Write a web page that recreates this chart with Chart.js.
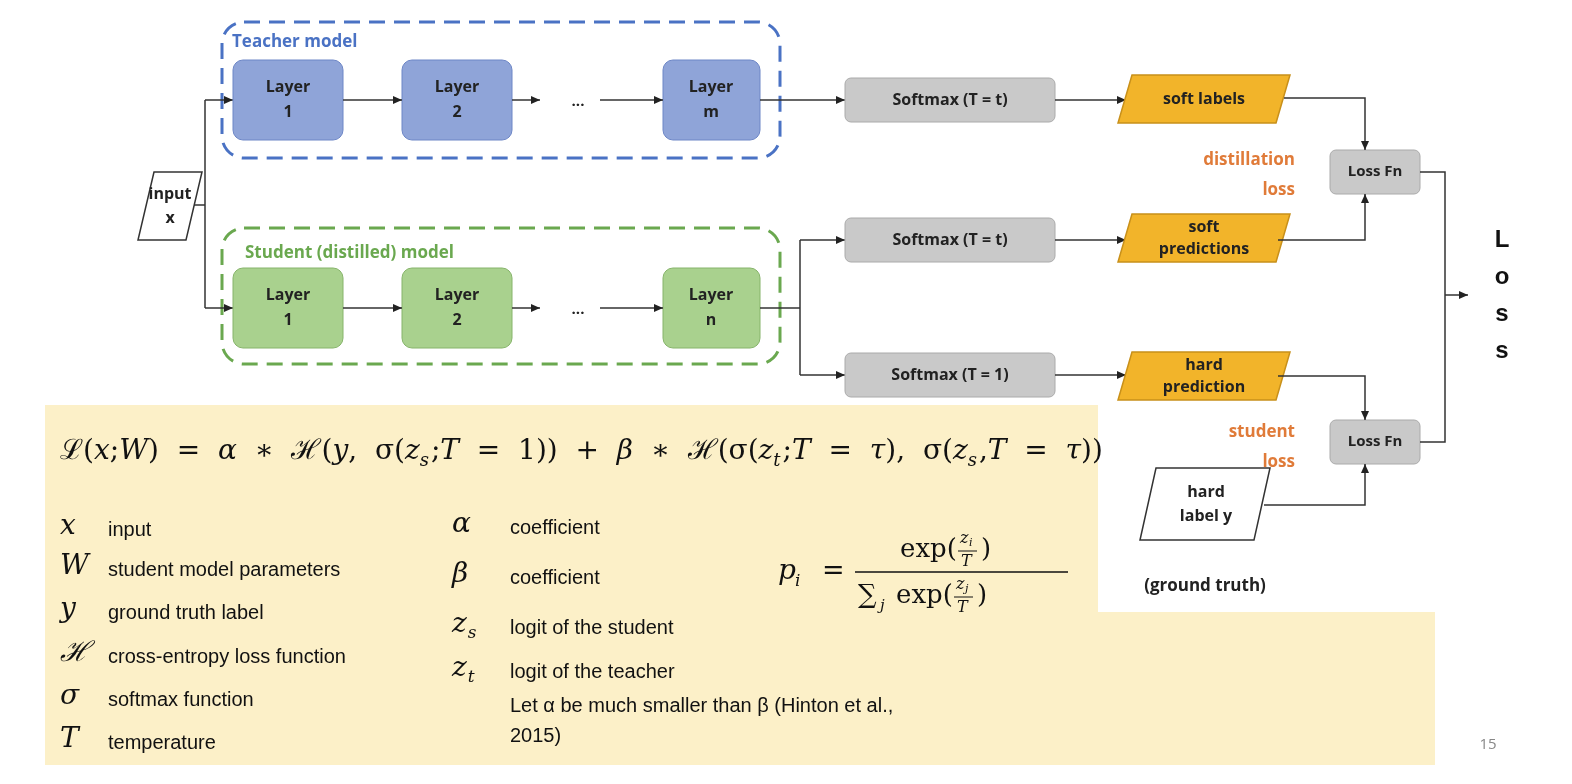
<!DOCTYPE html>
<html><head><meta charset="utf-8">
<script src="https://cdn.jsdelivr.net/npm/chart.js@4.4.4/dist/chart.umd.min.js"></script>
<style>html,body{margin:0;background:#fff}canvas{display:block}</style>
</head><body>
<canvas id="c" width="1572" height="784"></canvas>
<script>
// ─── Diagram data (image coordinates) ────────────────────────────────────────
const LAYER_LABELS = [['Layer', '1'], ['Layer', '2'], ['Layer', 'm'], ['Layer', '1'], ['Layer', '2'], ['Layer', 'n']];
const LAYER_X = [233, 402, 663, 233, 402, 663];
const LAYER_Y = [60, 60, 60, 268, 268, 268];
const LAYER_KIND = ['t', 't', 't', 's', 's', 's'];

const SOFTMAX_LABELS = ['Softmax (T = t)', 'Softmax (T = t)', 'Softmax (T = 1)'];
const SOFTMAX_Y = [78, 218, 353];

const OUT_LABELS = [['soft labels'], ['soft', 'predictions'], ['hard', 'prediction']];
const OUT_Y = [75, 214, 352];

const LOSS_Y = [150, 420];

const LEGEND_SYM = ['x', 'W', 'y', 'ℋ', 'σ', 'T'];
const LEGEND_TEXT = ['input', 'student model parameters', 'ground truth label', 'cross-entropy loss function', 'softmax function', 'temperature'];
const LEGEND_Y = [530, 570, 613, 657, 700, 743];
const LEGEND2_SYM = ['α', 'β', 'z|s', 'z|t'];
const LEGEND2_TEXT = ['coefficient', 'coefficient', 'logit of the student', 'logit of the teacher'];
const LEGEND2_Y = [528, 578, 628, 672];

const SANS = "'Open Sans', 'Liberation Sans', sans-serif";
const ARIAL = "'Liberation Sans', Arial, sans-serif";
const SERIF = "'DejaVu Serif', 'Liberation Serif', serif";

const diagramPlugin = {
    id: 'diagram',
    afterDraw(chart) {
        const { ctx, scales: { x, y } } = chart;
        const X = v => x.getPixelForValue(v), Y = v => y.getPixelForValue(v);

        const rrect = (x0, y0, w, h, r) => {
            ctx.beginPath();
            ctx.roundRect(X(x0), Y(y0), X(x0 + w) - X(x0), Y(y0 + h) - Y(y0), r);
        };
        const para = (x0, y0, w, h, s) => {
            ctx.beginPath();
            ctx.moveTo(X(x0 + s), Y(y0)); ctx.lineTo(X(x0 + w), Y(y0));
            ctx.lineTo(X(x0 + w - s), Y(y0 + h)); ctx.lineTo(X(x0), Y(y0 + h));
            ctx.closePath();
        };
        const text = (t, px, py, font, color, align) => {
            ctx.font = font; ctx.fillStyle = color || '#222';
            ctx.textAlign = align || 'center'; ctx.textBaseline = 'middle';
            ctx.fillText(t, X(px), Y(py));
        };
        const lines = (arr, cx, cy, font, gap) => {
            arr.forEach((t, i) => text(t, cx, cy + (i - (arr.length - 1) / 2) * gap, font));
        };
        const path = pts => {
            ctx.beginPath();
            pts.forEach((p, i) => i ? ctx.lineTo(X(p[0]), Y(p[1])) : ctx.moveTo(X(p[0]), Y(p[1])));
            ctx.strokeStyle = '#333'; ctx.lineWidth = 1.5; ctx.setLineDash([]); ctx.stroke();
        };
        const head = (px, py, dir) => {
            const [dx, dy] = { r: [1, 0], u: [0, -1], d: [0, 1] }[dir];
            ctx.beginPath();
            ctx.moveTo(X(px), Y(py));
            ctx.lineTo(X(px - dx * 9 - dy * 4), Y(py - dy * 9 - dx * 4));
            ctx.lineTo(X(px - dx * 9 + dy * 4), Y(py - dy * 9 + dx * 4));
            ctx.closePath(); ctx.fillStyle = '#222'; ctx.fill();
        };
        const arrow = (pts, dir) => { path(pts); const e = pts[pts.length - 1]; head(e[0], e[1], dir); };

        ctx.save();
        // yellow panel
        ctx.beginPath();
        ctx.moveTo(X(45), Y(405)); ctx.lineTo(X(1098), Y(405)); ctx.lineTo(X(1098), Y(612));
        ctx.lineTo(X(1435), Y(612)); ctx.lineTo(X(1435), Y(765)); ctx.lineTo(X(45), Y(765));
        ctx.closePath(); ctx.fillStyle = '#fcf0c8'; ctx.fill();

        // dashed model boxes
        [[22, '#4a72c4', 'Teacher model', 232, 42], [228, '#6aa84f', 'Student (distilled) model', 245, 253]].forEach(b => {
            rrect(222, b[0], 558, 136, 22);
            ctx.setLineDash([16, 9]); ctx.lineWidth = 3; ctx.strokeStyle = b[1]; ctx.stroke();
            ctx.setLineDash([]);
            text(b[2], b[3], b[4], `bold 17px ${SANS}`, b[1], 'left');
        });

        // input x
        para(138, 172, 64, 68, 16);
        ctx.fillStyle = '#fff'; ctx.fill(); ctx.lineWidth = 1.5; ctx.strokeStyle = '#333'; ctx.stroke();
        lines(['input', 'x'], 170, 206, `bold 16px ${SANS}`, 24);
        path([[194, 205], [205, 205]]);
        path([[205, 100], [205, 308]]);
        arrow([[205, 100], [233, 100]], 'r');
        arrow([[205, 308], [233, 308]], 'r');

        // layers
        LAYER_LABELS.forEach((lab, i) => {
            rrect(LAYER_X[i], LAYER_Y[i], i % 3 === 2 ? 97 : 110, 80, 10);
            ctx.fillStyle = LAYER_KIND[i] === 't' ? '#8fa4d8' : '#a9d18e';
            ctx.fill(); ctx.lineWidth = 1; ctx.strokeStyle = LAYER_KIND[i] === 't' ? '#6d86c6' : '#86b46a'; ctx.stroke();
            lines(lab, LAYER_X[i] + (i % 3 === 2 ? 48 : 55), LAYER_Y[i] + 40, `bold 16px ${SANS}`, 25);
        });
        [100, 308].forEach(cy => {
            arrow([[343, cy], [402, cy]], 'r');
            arrow([[512, cy], [540, cy]], 'r');
            text('...', 578, cy + 2, `bold 15px ${SANS}`);
            arrow([[600, cy], [663, cy]], 'r');
        });
        arrow([[760, 100], [845, 100]], 'r');
        path([[760, 308], [800, 308]]);
        path([[800, 240], [800, 375]]);
        arrow([[800, 240], [845, 240]], 'r');
        arrow([[800, 375], [845, 375]], 'r');

        // softmax boxes and outputs
        SOFTMAX_LABELS.forEach((lab, i) => {
            const cy = SOFTMAX_Y[i] + 22;
            rrect(845, SOFTMAX_Y[i], 210, 44, 6);
            ctx.fillStyle = '#c9c9c9'; ctx.fill(); ctx.strokeStyle = '#aaa'; ctx.lineWidth = 1; ctx.stroke();
            text(lab, 950, cy, `bold 16px ${SANS}`);
            arrow([[1055, cy], [1126, cy]], 'r');
            para(1118, OUT_Y[i], 172, 48, 14);
            ctx.fillStyle = '#f2b42a'; ctx.fill(); ctx.strokeStyle = '#c8901a'; ctx.stroke();
            lines(OUT_LABELS[i], 1204, OUT_Y[i] + 24, `bold 16px ${SANS}`, 22);
        });

        // loss boxes
        LOSS_Y.forEach(ly => {
            rrect(1330, ly, 90, 44, 6);
            ctx.fillStyle = '#c9c9c9'; ctx.fill(); ctx.strokeStyle = '#aaa'; ctx.lineWidth = 1; ctx.stroke();
            text('Loss Fn', 1375, ly + 22, `bold 15px ${SANS}`);
        });
        arrow([[1284, 98], [1365, 98], [1365, 150]], 'd');
        arrow([[1278, 240], [1365, 240], [1365, 194]], 'u');
        arrow([[1278, 376], [1365, 376], [1365, 420]], 'd');
        text('distillation', 1295, 160, `bold 17px ${SANS}`, '#e07b39', 'right');
        text('loss', 1295, 190, `bold 17px ${SANS}`, '#e07b39', 'right');
        text('student', 1295, 432, `bold 17px ${SANS}`, '#e07b39', 'right');
        text('loss', 1295, 462, `bold 17px ${SANS}`, '#e07b39', 'right');

        // hard label y
        para(1140, 468, 130, 72, 16);
        ctx.fillStyle = '#fff'; ctx.fill(); ctx.lineWidth = 1.5; ctx.strokeStyle = '#333'; ctx.stroke();
        lines(['hard', 'label y'], 1206, 504, `bold 16px ${SANS}`, 24);
        arrow([[1264, 505], [1365, 505], [1365, 464]], 'u');
        text('(ground truth)', 1205, 586, `bold 17px ${SANS}`);

        // combine into Loss
        path([[1420, 172], [1445, 172], [1445, 442], [1420, 442]]);
        arrow([[1445, 295], [1468, 295]], 'r');
        ['L', 'o', 's', 's'].forEach((c, i) => text(c, 1502, 240 + i * 37, `bold 24px ${ARIAL}`, '#111'));

        // main loss formula
        let cx = X(60);
        const seg = (t, sub, it) => {
            ctx.font = `${it ? 'italic ' : ''}28px ${SERIF}`; ctx.fillStyle = '#111';
            ctx.textAlign = 'left'; ctx.textBaseline = 'middle';
            const tt = it ? t : t.replace(/ /g, '  ');
            ctx.fillText(tt, cx, Y(452)); cx += ctx.measureText(tt).width;
            if (sub) { ctx.font = `italic 18px ${SERIF}`; ctx.fillText(sub, cx, Y(461)); cx += ctx.measureText(sub).width + 2; }
        };
        seg('ℒ(', 0, 0); seg('x', 0, 1); seg(';', 0, 0); seg('W', 0, 1); seg(') = ', 0, 0); seg('α', 0, 1);
        seg(' ∗ ℋ(', 0, 0); seg('y', 0, 1); seg(', σ(', 0, 0); seg('z', 's', 1); seg(';', 0, 0); seg('T', 0, 1);
        seg(' = 1)) + ', 0, 0); seg('β', 0, 1); seg(' ∗ ℋ(σ(', 0, 0); seg('z', 't', 1); seg(';', 0, 0); seg('T', 0, 1);
        seg(' = ', 0, 0); seg('τ', 0, 1); seg('), σ(', 0, 0); seg('z', 's', 1); seg(',', 0, 0); seg('T', 0, 1);
        seg(' = ', 0, 0); seg('τ', 0, 1); seg('))', 0, 0);

        // legend
        const sym = (s, px, py) => {
            const [b, sub] = s.split('|');
            text(b, px, py, `italic 28px ${SERIF}`, '#111', 'left');
            if (sub) { const w = ctx.measureText(b).width; ctx.font = `italic 17px ${SERIF}`; ctx.fillText(sub, X(px) + w + 1, Y(py + 9)); }
        };
        LEGEND_SYM.forEach((s, i) => {
            sym(s, 60, LEGEND_Y[i] - 3);
            text(LEGEND_TEXT[i], 108, LEGEND_Y[i], `20px ${ARIAL}`, '#111', 'left');
        });
        LEGEND2_SYM.forEach((s, i) => {
            sym(s, 452, LEGEND2_Y[i] - 3);
            text(LEGEND2_TEXT[i], 510, LEGEND2_Y[i], `20px ${ARIAL}`, '#111', 'left');
        });
        text('Let α be much smaller than β (Hinton et al.,', 510, 706, `20px ${ARIAL}`, '#111', 'left');
        text('2015)', 510, 736, `20px ${ARIAL}`, '#111', 'left');

        // p_i formula
        text('p', 778, 572, `italic 28px ${SERIF}`, '#111', 'left');
        text('i', 795, 582, `italic 17px ${SERIF}`, '#111', 'left');
        text('=', 822, 572, `27px ${SERIF}`, '#111', 'left');
        ctx.beginPath(); ctx.moveTo(X(855), Y(572)); ctx.lineTo(X(1068), Y(572));
        ctx.lineWidth = 1.5; ctx.strokeStyle = '#111'; ctx.stroke();
        text('exp(', 900, 550, `26px ${SERIF}`, '#111', 'left');
        text('z', 960, 539, `italic 16px ${SERIF}`, '#111', 'left');
        text('i', 969, 543, `italic 11px ${SERIF}`, '#111', 'left');
        ctx.beginPath(); ctx.moveTo(X(958), Y(551)); ctx.lineTo(X(977), Y(551)); ctx.lineWidth = 1; ctx.stroke();
        text('T', 961, 562, `italic 16px ${SERIF}`, '#111', 'left');
        text(')', 981, 550, `26px ${SERIF}`, '#111', 'left');
        text('∑', 858, 596, `26px ${SERIF}`, '#111', 'left');
        text('j', 880, 606, `italic 15px ${SERIF}`, '#111', 'left');
        text('exp(', 896, 596, `26px ${SERIF}`, '#111', 'left');
        text('z', 956, 585, `italic 16px ${SERIF}`, '#111', 'left');
        text('j', 965, 589, `italic 11px ${SERIF}`, '#111', 'left');
        ctx.beginPath(); ctx.moveTo(X(954), Y(597)); ctx.lineTo(X(973), Y(597)); ctx.stroke();
        text('T', 957, 608, `italic 16px ${SERIF}`, '#111', 'left');
        text(')', 977, 596, `26px ${SERIF}`, '#111', 'left');

        text('15', 1488, 745, `15px ${SANS}`, '#888');
        ctx.restore();
    }
};

new Chart(document.getElementById('c'), {
    type: 'scatter',
    data: { datasets: [{ data: [], pointRadius: 0 }] },
    options: {
        responsive: false, animation: false,
        layout: { padding: 0 },
        plugins: { legend: { display: false }, tooltip: { enabled: false } },
        scales: {
            x: { type: 'linear', min: 0, max: 1572, display: false },
            y: { type: 'linear', min: 0, max: 784, reverse: true, display: false }
        }
    },
    plugins: [diagramPlugin]
});
</script>
</body></html>
